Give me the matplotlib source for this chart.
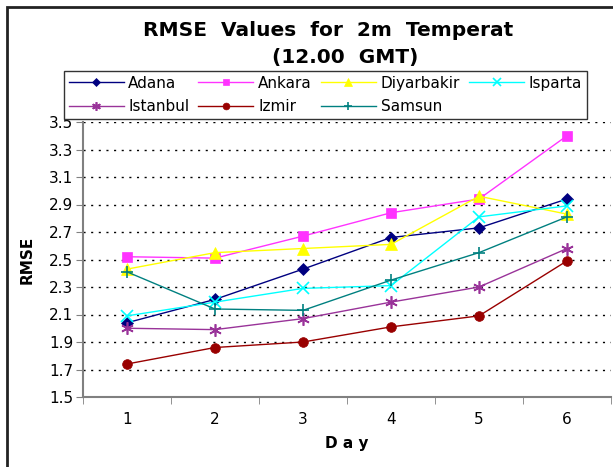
import matplotlib.pyplot as plt
import numpy as np
from matplotlib.patches import Rectangle

days = [1, 2, 3, 4, 5, 6]
adana = [2.04, 2.21, 2.43, 2.66, 2.73, 2.94]
ankara = [2.52, 2.51, 2.67, 2.84, 2.94, 3.40]
diyarbakir = [2.43, 2.55, 2.58, 2.61, 2.96, 2.83]
isparta = [2.09, 2.19, 2.29, 2.31, 2.81, 2.89]
istanbul = [2.00, 1.99, 2.07, 2.19, 2.30, 2.58]
izmir = [1.74, 1.86, 1.90, 2.01, 2.09, 2.49]
samsun = [2.41, 2.14, 2.13, 2.35, 2.55, 2.81]
y_ticks = [1.5, 1.7, 1.9, 2.1, 2.3, 2.5, 2.7, 2.9, 3.1, 3.3, 3.5]

plt.rcParams['font.family'] = ['DejaVu Sans']

fig = plt.figure(figsize=(6.13, 4.67), dpi=100)
W, H = 613, 467

# outer chart border (picture is cropped on the right and bottom)
fig.patches.append(Rectangle((7 / W, -0.1), 1.2, 1 - 7 / H + 0.1, transform=fig.transFigure,
                             fill=False, edgecolor='#222222', linewidth=2))

ax = fig.add_axes([83 / W, 1 - 397 / H, 528 / W, 275 / H])

series = [
    ('Adana', adana, '#000080', 'D', 6),
    ('Ankara', ankara, '#FF33FF', 's', 7),
    ('Diyarbakir', diyarbakir, '#FFFF00', '^', 8),
    ('Isparta', isparta, '#00FFFF', 'x', 8),
    ('Istanbul', istanbul, '#993399', (6, 2, 0), 9),
    ('Izmir', izmir, '#990000', 'o', 7),
    ('Samsun', samsun, '#008080', '+', 9),
]
handles = {}
for name, vals, col, mk, ms in series:
    thin = mk in ('x', '+') or isinstance(mk, tuple)
    h, = ax.plot(days, vals, color=col, marker=mk, markersize=ms, linewidth=1,
                 markeredgecolor=col, markeredgewidth=1.2 if thin else 0.5)
    handles[name] = h

ax.set_xlim(0.5, 6.5)
ax.set_ylim(1.5, 3.5)
ax.set_yticks(y_ticks)
ax.set_yticklabels([f'{v:.1f}' for v in y_ticks], fontsize=11)
ax.set_xticks(days)
ax.set_xticklabels([str(d) for d in days], fontsize=11)
ax.set_xticks(np.arange(0.5, 7, 1), minor=True)
ax.tick_params(axis='x', which='major', length=0, pad=11)
ax.tick_params(axis='x', which='minor', length=5, color='#808080', direction='out')
ax.tick_params(axis='y', length=5, color='#808080', direction='out', pad=2)
for y in y_ticks[1:]:
    ax.axhline(y, color='black', linestyle=(0, (1.5, 4)), linewidth=1, zorder=0)
for s in ['top', 'right']:
    ax.spines[s].set_visible(False)
for s in ['left', 'bottom']:
    ax.spines[s].set_color('#808080')
    ax.spines[s].set_linewidth(1.5)

ax.set_ylabel('RMSE', fontsize=11, fontweight='bold', labelpad=10)
ax.set_xlabel('D a y', fontsize=11, fontweight='bold', labelpad=6)

fig.text(143 / W, 1 - 31 / H, 'RMSE  Values  for  2m  Temperat', fontsize=14.5, fontweight='bold',
         ha='left', va='center')
fig.text(345 / W, 1 - 58 / H, '(12.00  GMT)', fontsize=14.5, fontweight='bold',
         ha='center', va='center')

order = ['Adana', 'Istanbul', 'Ankara', 'Izmir', 'Diyarbakir', 'Samsun', 'Isparta']
leg = fig.legend([handles[n] for n in order], order, ncol=4, fontsize=11,
                 loc='upper left', bbox_to_anchor=(64 / W, 1 - 71 / H),
                 frameon=True, fancybox=False, edgecolor='#333333', framealpha=1,
                 handlelength=3.6, handletextpad=0.3, columnspacing=0.6, markerscale=0.7,
                 borderpad=0.3, labelspacing=0.55, borderaxespad=0)
leg.get_frame().set_linewidth(1)
leg.set_zorder(10)

fig.savefig('out.png', dpi=100)
